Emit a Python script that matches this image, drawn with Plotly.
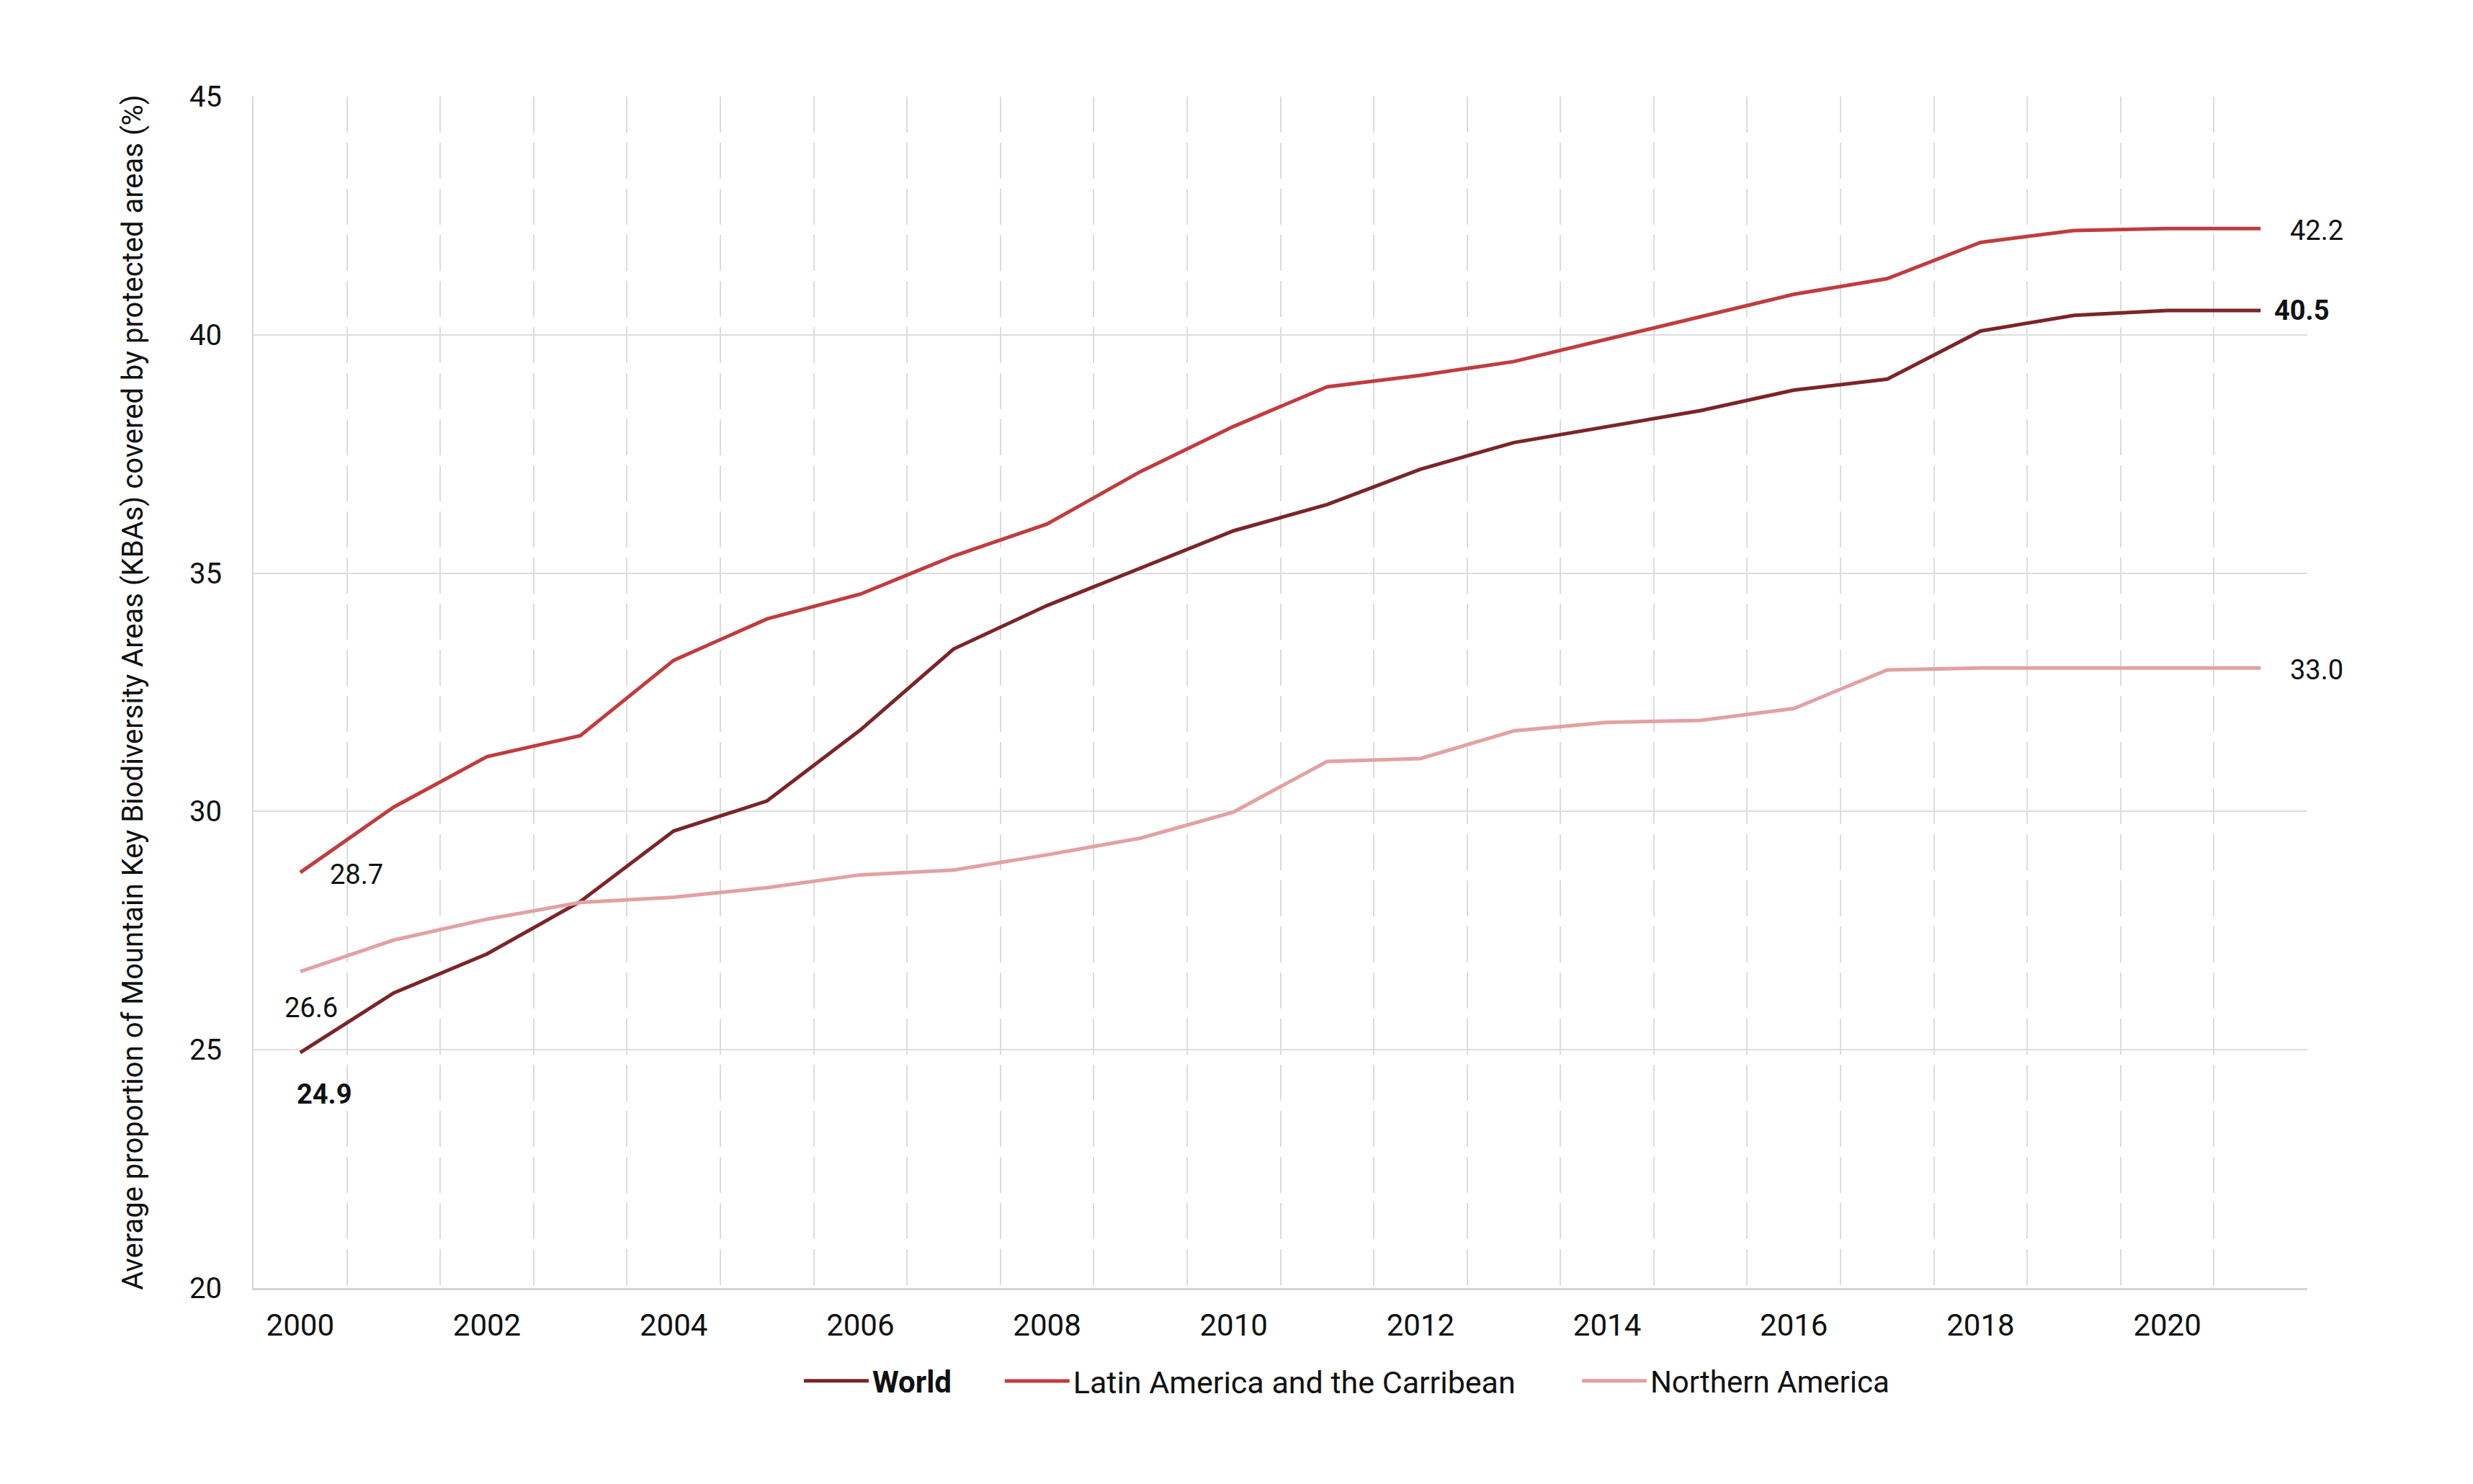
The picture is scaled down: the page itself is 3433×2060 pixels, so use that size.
import plotly.graph_objects as go

years = list(range(2000, 2022))
world = [24.94, 26.19, 27.01, 28.11, 29.59, 30.22, 31.71, 33.41, 34.32, 35.11, 35.89,
         36.44, 37.18, 37.74, 38.08, 38.41, 38.84, 39.07, 40.08, 40.41, 40.51, 40.51]
lac = [28.72, 30.09, 31.15, 31.59, 33.17, 34.04, 34.56, 35.36, 36.03, 37.13, 38.08,
       38.91, 39.15, 39.44, 39.91, 40.38, 40.85, 41.18, 41.94, 42.19, 42.23, 42.23]
na = [26.64, 27.30, 27.74, 28.09, 28.20, 28.40, 28.67, 28.77, 29.09, 29.44, 29.99,
      31.05, 31.11, 31.69, 31.87, 31.91, 32.16, 32.97, 33.01, 33.01, 33.01, 33.01]

series_names = ["World", "Latin America and the Carribean", "Northern America"]
series_values = [world, lac, na]
series_colors = ["#7b2529", "#c13c3e", "#e2a1a2"]
y_ticks = [20, 25, 30, 35, 40, 45]
y_title = "Average proportion of Mountain Key Biodiversity Areas (KBAs) covered by protected areas (%)"

FONT = "Roboto, Arial, sans-serif"
TXT = "#111111"

legend_ids = ["legend", "legend2", "legend3"]
legend_x = [0.2662, 0.3640, 0.6450]
legend_font_sizes = [42, 43, 42]

fig = go.Figure()
for name, vals, col, lg in zip(series_names, series_values, series_colors, legend_ids):
    label = "<b>%s</b>" % name if name == "World" else name
    fig.add_trace(go.Scatter(x=years, y=vals, mode="lines", name=label,
                             line=dict(color=col, width=5), legend=lg,
                             hoverinfo="x+y+name"))

# value labels at start and end
start_cfg = {  # name: (xshift, yshift, bold)
    "World": (33, -58, True),
    "Latin America and the Carribean": (78, -3, False),
    "Northern America": (15, -50, False),
}
end_cfg = {
    "World": (57, 0, True),
    "Latin America and the Carribean": (78, -3, False),
    "Northern America": (78, -3, False),
}
for name, vals in zip(series_names, series_values):
    for idx, cfg in ((0, start_cfg[name]), (-1, end_cfg[name])):
        xs, ys, bold = cfg
        txt = "%.1f" % vals[idx]
        if bold:
            txt = "<b>%s</b>" % txt
        fig.add_annotation(x=years[idx], y=vals[idx], text=txt, showarrow=False,
                           xanchor="center", yanchor="middle", xshift=xs, yshift=ys,
                           font=dict(family=FONT, size=38, color=TXT))


def legend_cfg(xpos, fsize):
    return dict(orientation="h", xanchor="left", x=xpos, y=-0.078, yanchor="middle",
                font=dict(family=FONT, size=fsize, color=TXT), itemwidth=90,
                bgcolor="rgba(0,0,0,0)")


fig.update_layout(
    width=3425, height=2052,
    margin=dict(l=344, r=230, t=126, b=272),
    paper_bgcolor="white", plot_bgcolor="white",
    font=dict(family=FONT, size=42, color=TXT),
    showlegend=True,
    legend=legend_cfg(legend_x[0], legend_font_sizes[0]),
    legend2=legend_cfg(legend_x[1], legend_font_sizes[1]),
    legend3=legend_cfg(legend_x[2], legend_font_sizes[2]),
)
fig.update_xaxes(
    range=[1999.5, 2021.5], tickmode="linear", tick0=2000, dtick=2,
    showgrid=False, zeroline=False,
    showline=True, linecolor="#d4d4d4", linewidth=3,
    ticks="", ticklabelstandoff=13,
    tickfont=dict(family=FONT, size=42, color=TXT),
    minor=dict(tick0=1999.5, dtick=1, showgrid=True, gridcolor="#dcdcdc",
               gridwidth=2, griddash="50px,14px"),
)
fig.update_yaxes(
    range=[20, 45], tickmode="array", tickvals=y_ticks,
    showgrid=True, gridcolor="#dddddd", gridwidth=2, zeroline=False,
    showline=True, linecolor="#d8d8d8", linewidth=2,
    ticks="", ticklabelstandoff=34,
    tickfont=dict(family=FONT, size=40, color=TXT),
    title=dict(text=y_title, font=dict(family=FONT, size=40, color=TXT), standoff=52),
)

fig.write_html("out.html")
